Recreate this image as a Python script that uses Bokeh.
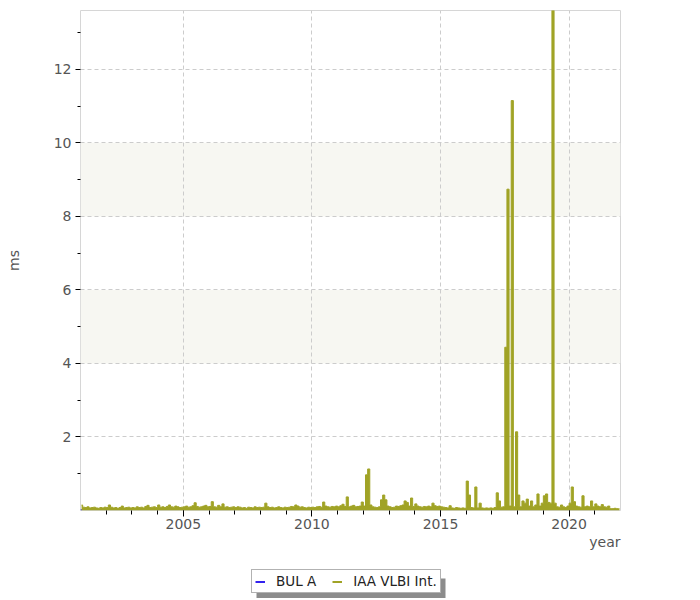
from bokeh.plotting import figure
from bokeh.layouts import column
from bokeh.models import Range1d, FixedTicker, BoxAnnotation, Legend, LegendItem, Title
from bokeh.embed import file_html
from bokeh.resources import INLINE

# ---- data (monthly values, ms) ----
start_year = 2001
iaa_2001 = [0.15, 0.09, 0.08, 0.10, 0.07, 0.08, 0.09, 0.07, 0.06, 0.08, 0.07, 0.09]
iaa_2002 = [0.08, 0.15, 0.09, 0.07, 0.08, 0.06, 0.08, 0.12, 0.07, 0.08, 0.09, 0.07]
iaa_2003 = [0.08, 0.07, 0.10, 0.08, 0.09, 0.07, 0.11, 0.14, 0.08, 0.09, 0.10, 0.08]
iaa_2004 = [0.15, 0.09, 0.10, 0.08, 0.11, 0.15, 0.10, 0.09, 0.12, 0.10, 0.08, 0.09]
iaa_2005 = [0.10, 0.12, 0.09, 0.10, 0.13, 0.21, 0.11, 0.09, 0.10, 0.12, 0.14, 0.10]
iaa_2006 = [0.11, 0.24, 0.10, 0.09, 0.14, 0.10, 0.18, 0.09, 0.10, 0.08, 0.09, 0.10]
iaa_2007 = [0.08, 0.10, 0.09, 0.07, 0.08, 0.06, 0.09, 0.08, 0.07, 0.10, 0.08, 0.09]
iaa_2008 = [0.08, 0.09, 0.20, 0.10, 0.08, 0.09, 0.07, 0.08, 0.10, 0.08, 0.07, 0.09]
iaa_2009 = [0.08, 0.09, 0.11, 0.10, 0.15, 0.12, 0.09, 0.10, 0.08, 0.07, 0.09, 0.08]
iaa_2010 = [0.09, 0.08, 0.10, 0.11, 0.09, 0.23, 0.12, 0.10, 0.09, 0.11, 0.10, 0.12]
iaa_2011 = [0.10, 0.13, 0.17, 0.11, 0.37, 0.10, 0.12, 0.14, 0.10, 0.11, 0.12, 0.23]
iaa_2012 = [0.12, 0.97, 1.13, 0.15, 0.10, 0.09, 0.08, 0.10, 0.29, 0.42, 0.29, 0.12]
iaa_2013 = [0.10, 0.08, 0.09, 0.12, 0.11, 0.13, 0.15, 0.26, 0.22, 0.12, 0.34, 0.11]
iaa_2014 = [0.18, 0.12, 0.10, 0.09, 0.11, 0.10, 0.12, 0.10, 0.20, 0.13, 0.11, 0.12]
iaa_2015 = [0.10, 0.09, 0.08, 0.07, 0.13, 0.07, 0.06, 0.08, 0.07, 0.06, 0.07, 0.06]
iaa_2016 = [0.80, 0.42, 0.08, 0.07, 0.64, 0.07, 0.20, 0.07, 0.06, 0.07, 0.06, 0.07]
iaa_2017 = [0.06, 0.08, 0.48, 0.26, 0.09, 0.10, 4.44, 8.74, 0.12, 11.15, 0.10, 2.14]
iaa_2018 = [0.42, 0.10, 0.26, 0.20, 0.31, 0.12, 0.26, 0.10, 0.15, 0.45, 0.12, 0.20]
iaa_2019 = [0.40, 0.45, 0.22, 0.20, 14.50, 0.20, 0.10, 0.09, 0.15, 0.10, 0.08, 0.12]
iaa_2020 = [0.20, 0.64, 0.24, 0.12, 0.10, 0.09, 0.40, 0.10, 0.12, 0.10, 0.26, 0.10]
iaa_2021 = [0.18, 0.12, 0.10, 0.16, 0.10, 0.09, 0.12, 0.05, 0.05, 0.06, 0.05, 0.05]

iaa_values = (iaa_2001 + iaa_2002 + iaa_2003 + iaa_2004 + iaa_2005 + iaa_2006 + iaa_2007
              + iaa_2008 + iaa_2009 + iaa_2010 + iaa_2011 + iaa_2012 + iaa_2013 + iaa_2014
              + iaa_2015 + iaa_2016 + iaa_2017 + iaa_2018 + iaa_2019 + iaa_2020 + iaa_2021)
iaa_years = [start_year + (i + 0.5) / 12.0 for i in range(len(iaa_values))]

bul_years = [2001.0, 2001.05]
bul_values = [0.02, 0.02]

x_major = [2005, 2010, 2015, 2020]
x_minor = list(range(2002, 2022))
y_major = [2, 4, 6, 8, 10, 12]
y_minor = [1, 3, 5, 7, 9, 11, 13]
bands = [(4, 6), (8, 10)]
series_labels = ["BUL A", "IAA VLBI Int."]
x_title = "year"
y_title = "ms"

OLIVE = "#a0a326"
BLUE = "#3322ee"
TXT = "#555555"
FONT = "DejaVu Sans"

p = figure(width=690, height=560, output_backend="svg", toolbar_location=None,
           x_range=Range1d(2001, 2022), y_range=Range1d(0, 13.6),
           min_border_left=80, min_border_right=70, min_border_top=10, min_border_bottom=50)
p.background_fill_color = "white"
p.border_fill_color = "white"
p.outline_line_color = "#d6d6d6"
p.outline_line_width = 1

for lo, hi in bands:
    p.add_layout(BoxAnnotation(bottom=lo, top=hi, fill_color="#f7f7f2", fill_alpha=1.0,
                               line_color=None, level="image"))

xt = FixedTicker(ticks=x_major, minor_ticks=x_minor)
yt = FixedTicker(ticks=y_major, minor_ticks=y_minor)
p.xaxis.ticker = xt
p.yaxis.ticker = yt
p.xgrid.ticker = xt
p.ygrid.ticker = yt
for g in (p.xgrid, p.ygrid):
    g.grid_line_color = "#cccccc"
    g.grid_line_dash = "4 3"
    g.grid_line_width = 1

for ax in (p.xaxis, p.yaxis):
    ax.axis_line_color = None
    ax.major_tick_line_color = "black"
    ax.minor_tick_line_color = "black"
    ax.major_tick_in = 0
    ax.minor_tick_in = 0
    ax.major_label_text_font = FONT
    ax.major_label_text_font_size = "14px"
    ax.major_label_text_color = TXT
    ax.axis_label_text_font = FONT
    ax.axis_label_text_font_size = "14px"
    ax.axis_label_text_color = TXT
    ax.axis_label_text_font_style = "normal"

p.xaxis.major_tick_out = 6
p.xaxis.minor_tick_out = 4
p.yaxis.major_tick_out = 5
p.yaxis.minor_tick_out = 3
p.xaxis.major_label_standoff = 2
p.yaxis.major_label_standoff = 4
p.yaxis.axis_label = y_title
p.yaxis.axis_label_standoff = 29

# x-axis title, right aligned under the axis
p.add_layout(Title(text=x_title, align="right", standoff=0, offset=0,
                   text_font=FONT, text_font_size="14px", text_font_style="normal",
                   text_color=TXT), "below")

p.line(bul_years, bul_values, color=BLUE, line_width=1.5)
p.varea_step(x=iaa_years, y1=[0] * len(iaa_values), y2=iaa_values, step_mode="center",
             fill_color=OLIVE, fill_alpha=1.0)
p.step(iaa_years, iaa_values, mode="center", color=OLIVE, line_width=1)

# ---- strip below the chart: legend with drop shadow ----
STRIP_H = 38
lp = figure(width=690, height=STRIP_H, output_backend="svg", toolbar_location=None,
            x_range=Range1d(0, 540), y_range=Range1d(0, STRIP_H),
            x_axis_type=None, y_axis_type=None,
            min_border_left=0, min_border_right=0, min_border_top=0, min_border_bottom=0)
lp.outline_line_color = None
lp.grid.visible = False
lp.background_fill_color = "white"
lp.border_fill_color = "white"

LEG_X, LEG_Y, LEG_W, LEG_H, SHADOW = 171, 5, 189, 20, 5
lp.quad(left=LEG_X + SHADOW, right=LEG_X + SHADOW + LEG_W, bottom=LEG_Y - SHADOW,
        top=LEG_Y - SHADOW + LEG_H, fill_color="#8c8c8c", line_color=None)

NAN = float("nan")
l_bul = lp.line([NAN], [NAN], color=BLUE, line_width=2)
l_iaa = lp.line([NAN], [NAN], color=OLIVE, line_width=2)

legend = Legend(items=[LegendItem(label=series_labels[0], renderers=[l_bul]),
                       LegendItem(label=series_labels[1], renderers=[l_iaa])],
                location=(LEG_X, LEG_Y), orientation="horizontal",
                glyph_width=10, glyph_height=13, label_height=13, label_standoff=11,
                spacing=16, padding=3, margin=0,
                label_text_font=FONT, label_text_font_size="13.5px",
                label_text_color="#222222",
                background_fill_color="white", background_fill_alpha=1.0,
                border_line_color="#666666", border_line_width=1)
lp.add_layout(legend)

layout = column(p, lp, spacing=0)
open("out.html", "w").write(file_html(layout, INLINE))
